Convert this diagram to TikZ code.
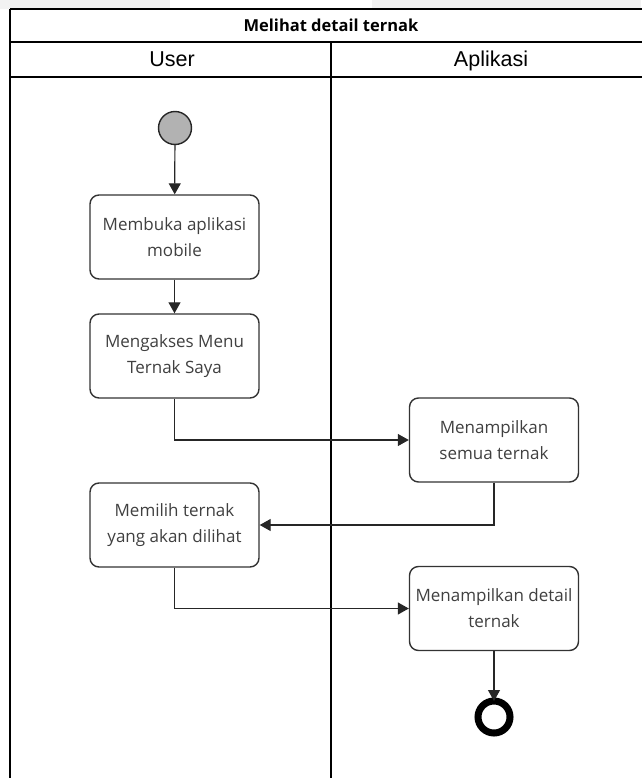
\documentclass[tikz,border=0pt]{standalone}
\usepackage{fontspec}
\setmainfont{Open Sans}
\newfontfamily\hdrfont{Liberation Sans}
\usetikzlibrary{arrows.meta}
\begin{document}
\begin{tikzpicture}[x=1pt,y=-1pt,
  act/.style={draw=black!80,line width=1.4pt,rounded corners=9pt,fill=white,minimum width=169pt,minimum height=84pt,align=center,font=\fontsize{17}{26}\selectfont,text=black!75,inner sep=1pt},
  flow/.style={draw=black!85,line width=1.2pt,-{Triangle[length=11pt,width=12pt]}},
  lane/.style={draw=black,line width=1.6pt}]
\useasboundingbox (0,0) rectangle (641,778);
\fill[black!5] (0,0) rectangle (641,9);
\fill[white] (170,0) rectangle (372,9);
% swimlane frame
\draw[lane] (10,9) -- (643,9);
\draw[lane] (10,9) -- (10,780);
\draw[lane] (10,42) -- (643,42);
\draw[lane] (10,77) -- (643,77);
\draw[lane] (331,42) -- (331,780);
\node[font=\bfseries\fontsize{16.5}{20}\selectfont,anchor=base] (title) at (331,32) {Melihat detail ternak};
\node[font=\hdrfont\fontsize{21.5}{24}\selectfont,anchor=base] (huser) at (172,67) {User};
\node[font=\hdrfont\fontsize{21.5}{24}\selectfont,anchor=base] (happ) at (491,67) {Aplikasi};
% nodes
\node[circle,draw=black!85,line width=1.4pt,fill=black!30,minimum size=33pt,inner sep=0pt] (start) at (175,128) {};
\node[act] (a1) at (174.5,237) {Membuka aplikasi\\mobile};
\node[act] (a2) at (174.5,356) {Mengakses Menu\\Ternak Saya};
\node[act] (a3) at (494,440) {Menampilkan\\semua ternak};
\node[act] (a4) at (174.5,525) {Memilih ternak\\yang akan dilihat};
\node[act] (a5) at (494,608.5) {Menampilkan detail\\ternak};
\node[circle,draw=black,line width=7pt,fill=white,minimum size=32pt,inner sep=0pt] (end) at (494,717) {};
% flows
\draw[flow] (start) -- (a1);
\draw[flow] (a1) -- (a2);
\draw[flow] (a2.south) |- (a3.west);
\draw[flow] (a3.south) |- (a4.east);
\draw[flow] (a4.south) |- (a5.west);
\draw[flow] (a5.south) -- ([yshift=-3.5pt]end.north);
\end{tikzpicture}
\end{document}
